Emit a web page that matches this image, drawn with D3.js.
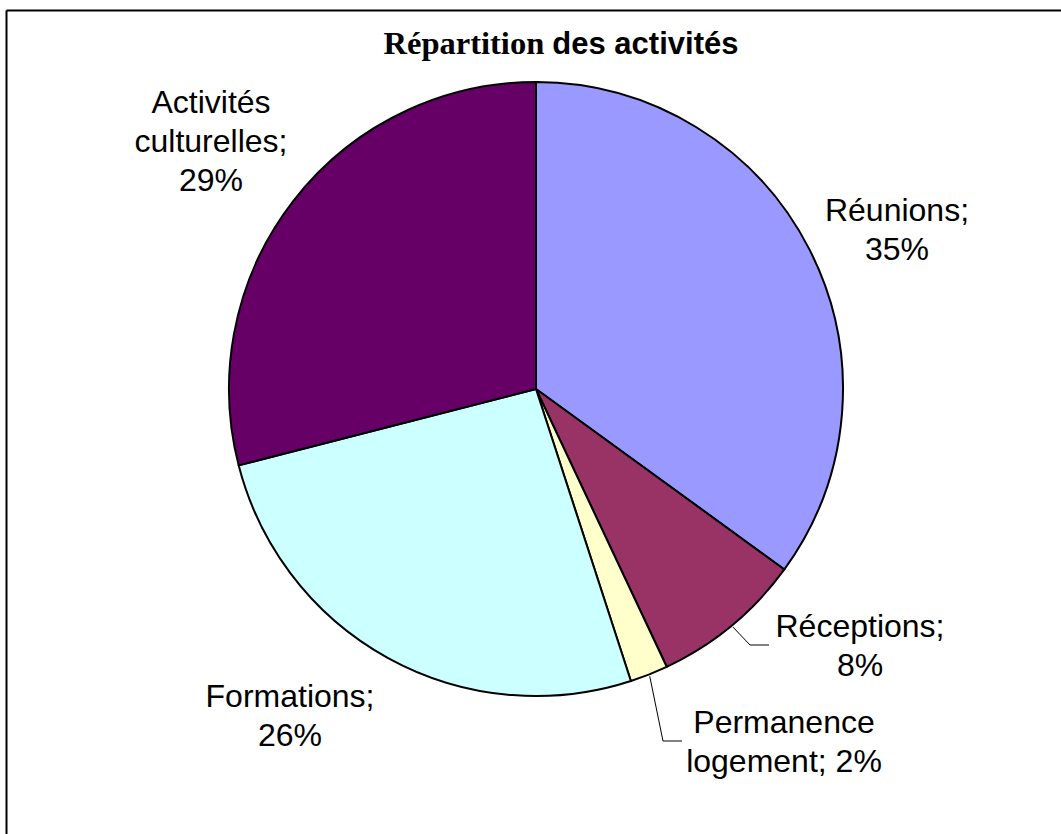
<!DOCTYPE html>
<html>
<head>
<meta charset="utf-8">
<script src="https://cdn.jsdelivr.net/npm/d3@7"></script>
<style>
  html, body { margin: 0; padding: 0; background: #fff; }
  svg { display: block; }
</style>
</head>
<body>
<svg id="chart" width="1061" height="834"></svg>
<script>
const categories = ["Réunions", "Réceptions", "Permanence logement", "Formations", "Activités culturelles"];
const values = [35, 8, 2, 26, 29];
const colors = ["#9999FF", "#993366", "#FFFFCC", "#CCFFFF", "#660066"];
const labelLines = [
  ["Réunions;", "35%"],
  ["Réceptions;", "8%"],
  ["Permanence", "logement; 2%"],
  ["Formations;", "26%"],
  ["Activités", "culturelles;", "29%"]
];

const W = 1061, H = 834;
const cx = 536, cy = 389, R = 307;
const svg = d3.select("#chart");

// frame (top and left edges visible)
svg.append("line").attr("x1", 6.5).attr("y1", 10.5).attr("x2", W).attr("y2", 10.5)
  .attr("stroke", "#000").attr("stroke-width", 2);
svg.append("line").attr("x1", 6.5).attr("y1", 10.5).attr("x2", 6.5).attr("y2", H)
  .attr("stroke", "#000").attr("stroke-width", 2);

// title
const title = svg.append("text").attr("x", cx + 25).attr("y", 54)
  .attr("text-anchor", "middle").attr("font-weight", "bold").attr("fill", "#000");
title.append("tspan").attr("font-family", "'Liberation Serif', 'Times New Roman', serif")
  .attr("font-size", 32.5).text("Répartition ");
title.append("tspan").attr("font-family", "'Liberation Sans', Arial, sans-serif")
  .attr("font-size", 31).text("des activités");

const pie = d3.pie().sort(null).value(d => d)(values);
const arc = d3.arc().innerRadius(0).outerRadius(R);
const g = svg.append("g").attr("transform", `translate(${cx},${cy})`);
g.selectAll("path").data(pie).enter().append("path")
  .attr("d", arc)
  .attr("fill", (d, i) => colors[i])
  .attr("stroke", "#000").attr("stroke-width", 2).attr("stroke-linejoin", "round");

// label layout (centre x, first baseline) relative to the page
const labelPos = [
  [897, 221],
  [860, 637],
  [784, 733],
  [290, 707],
  [211, 113]
];
const lineH = 39;
labelLines.forEach((lines, i) => {
  const t = svg.append("text").attr("text-anchor", "middle")
    .attr("font-family", "'Liberation Sans', Arial, sans-serif")
    .attr("font-size", 32).attr("fill", "#000");
  lines.forEach((s, j) => {
    t.append("tspan").attr("x", labelPos[i][0]).attr("y", labelPos[i][1] + j * lineH).text(s);
  });
});

// leader lines
function edgePoint(d, r) {
  const a = (d.startAngle + d.endAngle) / 2;
  return [cx + r * Math.sin(a), cy - r * Math.cos(a)];
}
const leaders = [
  { i: 1, pts: [[750, 645], [769, 645]] },
  { i: 2, pts: [[663, 741], [682, 741]] }
];
leaders.forEach(L => {
  const p0 = edgePoint(pie[L.i], R + 2);
  svg.append("polyline")
    .attr("points", [p0, ...L.pts].map(p => p.join(",")).join(" "))
    .attr("fill", "none").attr("stroke", "#000").attr("stroke-width", 1);
});
</script>
</body>
</html>
